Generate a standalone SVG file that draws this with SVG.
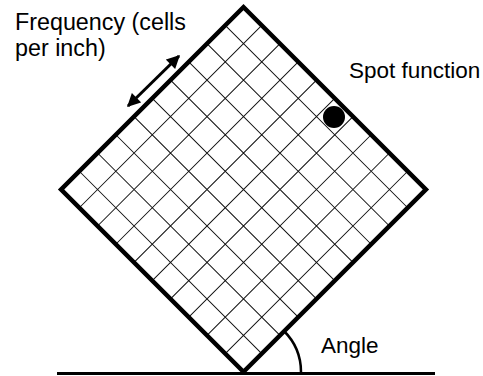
<svg xmlns="http://www.w3.org/2000/svg" width="483" height="376" viewBox="0 0 483 376">
<style>
text{font-family:"Liberation Sans",Arial,sans-serif;font-size:22.5px;fill:#000}
.grid{stroke:#111;stroke-width:1;fill:none}
.frame{stroke:#000;stroke-width:4.5;fill:none;stroke-linejoin:miter}
</style>
<defs>
<marker id="ah" viewBox="0 0 10 10" refX="9" refY="5" markerWidth="5" markerHeight="4.4" orient="auto-start-reverse" markerUnits="strokeWidth">
<path d="M0,0 L10,5 L0,10 Z" fill="#000"/>
</marker>
</defs>
<rect width="483" height="376" fill="#fff"/>
<g id="screen" transform="translate(243.5,189.5) rotate(45)">
<path class="grid" d="M-103.2,-129 V129 M-77.4,-129 V129 M-51.6,-129 V129 M-25.8,-129 V129 M0,-129 V129 M25.8,-129 V129 M51.6,-129 V129 M77.4,-129 V129 M103.2,-129 V129 M-129,-103.2 H129 M-129,-77.4 H129 M-129,-51.6 H129 M-129,-25.8 H129 M-129,0 H129 M-129,25.8 H129 M-129,51.6 H129 M-129,77.4 H129 M-129,103.2 H129"/>
<rect class="frame" x="-129" y="-129" width="258" height="258"/>
</g>
<g id="spot">
<circle cx="334" cy="117" r="11" fill="#000"/>
</g>
<g id="baseline">
<line x1="57" y1="373.5" x2="435" y2="373.5" stroke="#000" stroke-width="3"/>
</g>
<g id="connectors">
<line x1="128" y1="106" x2="179" y2="56" stroke="#000" stroke-width="3" marker-start="url(#ah)" marker-end="url(#ah)"/>
<path d="M301,372 A58,58 0 0 0 284,331" fill="none" stroke="#000" stroke-width="2.5"/>
</g>
<g id="labels">
<text x="15" y="30" style="font-size:23.3px">Frequency (cells</text>
<text x="15" y="56" style="font-size:23.3px">per inch)</text>
<text x="349" y="78">Spot function</text>
<text x="321" y="353">Angle</text>
</g>
</svg>
